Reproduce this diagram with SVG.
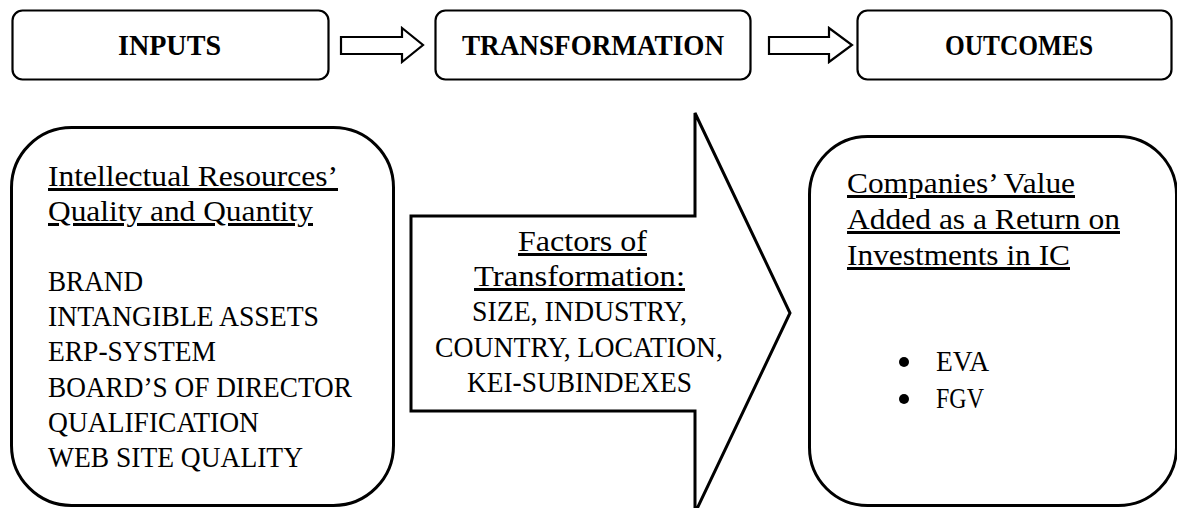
<svg xmlns="http://www.w3.org/2000/svg" width="1177" height="508" viewBox="0 0 1177 508">
  <style>
    .box { fill: #fff; stroke: #000; stroke-width: 2.2; }
    .big { fill: #fff; stroke: #000; stroke-width: 3; }
    .arr { fill: #fff; stroke: #000; stroke-width: 2.2; stroke-linejoin: miter; }
    .hd { font-family: "Liberation Serif", serif; font-weight: bold; font-size: 29px; fill: #000; }
    .tx { font-family: "Liberation Serif", serif; font-size: 30px; fill: #000; }
    .u { text-decoration: underline; }
  </style>
  <rect width="1177" height="508" fill="#fff"/>

  <g id="inputs">
    <rect class="box" x="12.5" y="10.5" width="316" height="69" rx="10"/>
    <text class="hd" x="118" y="54.5" textLength="103" lengthAdjust="spacingAndGlyphs">INPUTS</text>
  </g>

  <g id="transformation">
    <rect class="box" x="435.5" y="10.5" width="315" height="69" rx="10"/>
    <text class="hd" x="462" y="54.5" textLength="262" lengthAdjust="spacingAndGlyphs">TRANSFORMATION</text>
  </g>

  <g id="outcomes">
    <rect class="box" x="857.5" y="10.5" width="314" height="69" rx="10"/>
    <text class="hd" x="945" y="54.5" textLength="148" lengthAdjust="spacingAndGlyphs">OUTCOMES</text>
  </g>

  <g id="connectors">
    <polygon class="arr" points="341,37 402,37 402,28 423,45 402,62 402,54 341,54"/>
    <polygon class="arr" points="769,37 829,37 829,28 852,45 829,62 829,54 769,54"/>
  </g>

  <g id="resources">
    <rect class="big" x="11.5" y="127.5" width="382" height="378" rx="60"/>
    <text class="tx u" x="48" y="186" textLength="290" lengthAdjust="spacingAndGlyphs">Intellectual Resources’</text>
    <text class="tx u" x="48" y="221" textLength="265" lengthAdjust="spacingAndGlyphs">Quality and Quantity</text>
    <text class="tx" x="48" y="291" textLength="95" lengthAdjust="spacingAndGlyphs">BRAND</text>
    <text class="tx" x="48" y="326" textLength="271" lengthAdjust="spacingAndGlyphs">INTANGIBLE ASSETS</text>
    <text class="tx" x="48" y="361" textLength="168" lengthAdjust="spacingAndGlyphs">ERP-SYSTEM</text>
    <text class="tx" x="48" y="397" textLength="304" lengthAdjust="spacingAndGlyphs">BOARD’S OF DIRECTOR</text>
    <text class="tx" x="48" y="432" textLength="211" lengthAdjust="spacingAndGlyphs">QUALIFICATION</text>
    <text class="tx" x="48" y="467" textLength="255" lengthAdjust="spacingAndGlyphs">WEB SITE QUALITY</text>
  </g>

  <g id="factors">
    <polygon class="big" points="411,216 695,216 695,113 790,313 695,513 695,411 411,411"/>
    <text class="tx u" x="518" y="251" textLength="129" lengthAdjust="spacingAndGlyphs">Factors of</text>
    <text class="tx u" x="474" y="286" textLength="211" lengthAdjust="spacingAndGlyphs">Transformation:</text>
    <text class="tx" x="472" y="321" textLength="215" lengthAdjust="spacingAndGlyphs">SIZE, INDUSTRY,</text>
    <text class="tx" x="435" y="357" textLength="288" lengthAdjust="spacingAndGlyphs">COUNTRY, LOCATION,</text>
    <text class="tx" x="467" y="392" textLength="225" lengthAdjust="spacingAndGlyphs">KEI-SUBINDEXES</text>
  </g>

  <g id="value">
    <rect class="big" x="809.5" y="136.5" width="367" height="369" rx="58"/>
    <text class="tx u" x="847" y="193" textLength="228" lengthAdjust="spacingAndGlyphs">Companies’ Value</text>
    <text class="tx u" x="847" y="229" textLength="273" lengthAdjust="spacingAndGlyphs">Added as a Return on</text>
    <text class="tx u" x="847" y="265" textLength="223" lengthAdjust="spacingAndGlyphs">Investments in IC</text>
    <circle cx="904" cy="362" r="5"/>
    <circle cx="904" cy="399" r="5"/>
    <text class="tx" x="936" y="371" textLength="53" lengthAdjust="spacingAndGlyphs">EVA</text>
    <text class="tx" x="936" y="408" textLength="48" lengthAdjust="spacingAndGlyphs">FGV</text>
  </g>
</svg>
